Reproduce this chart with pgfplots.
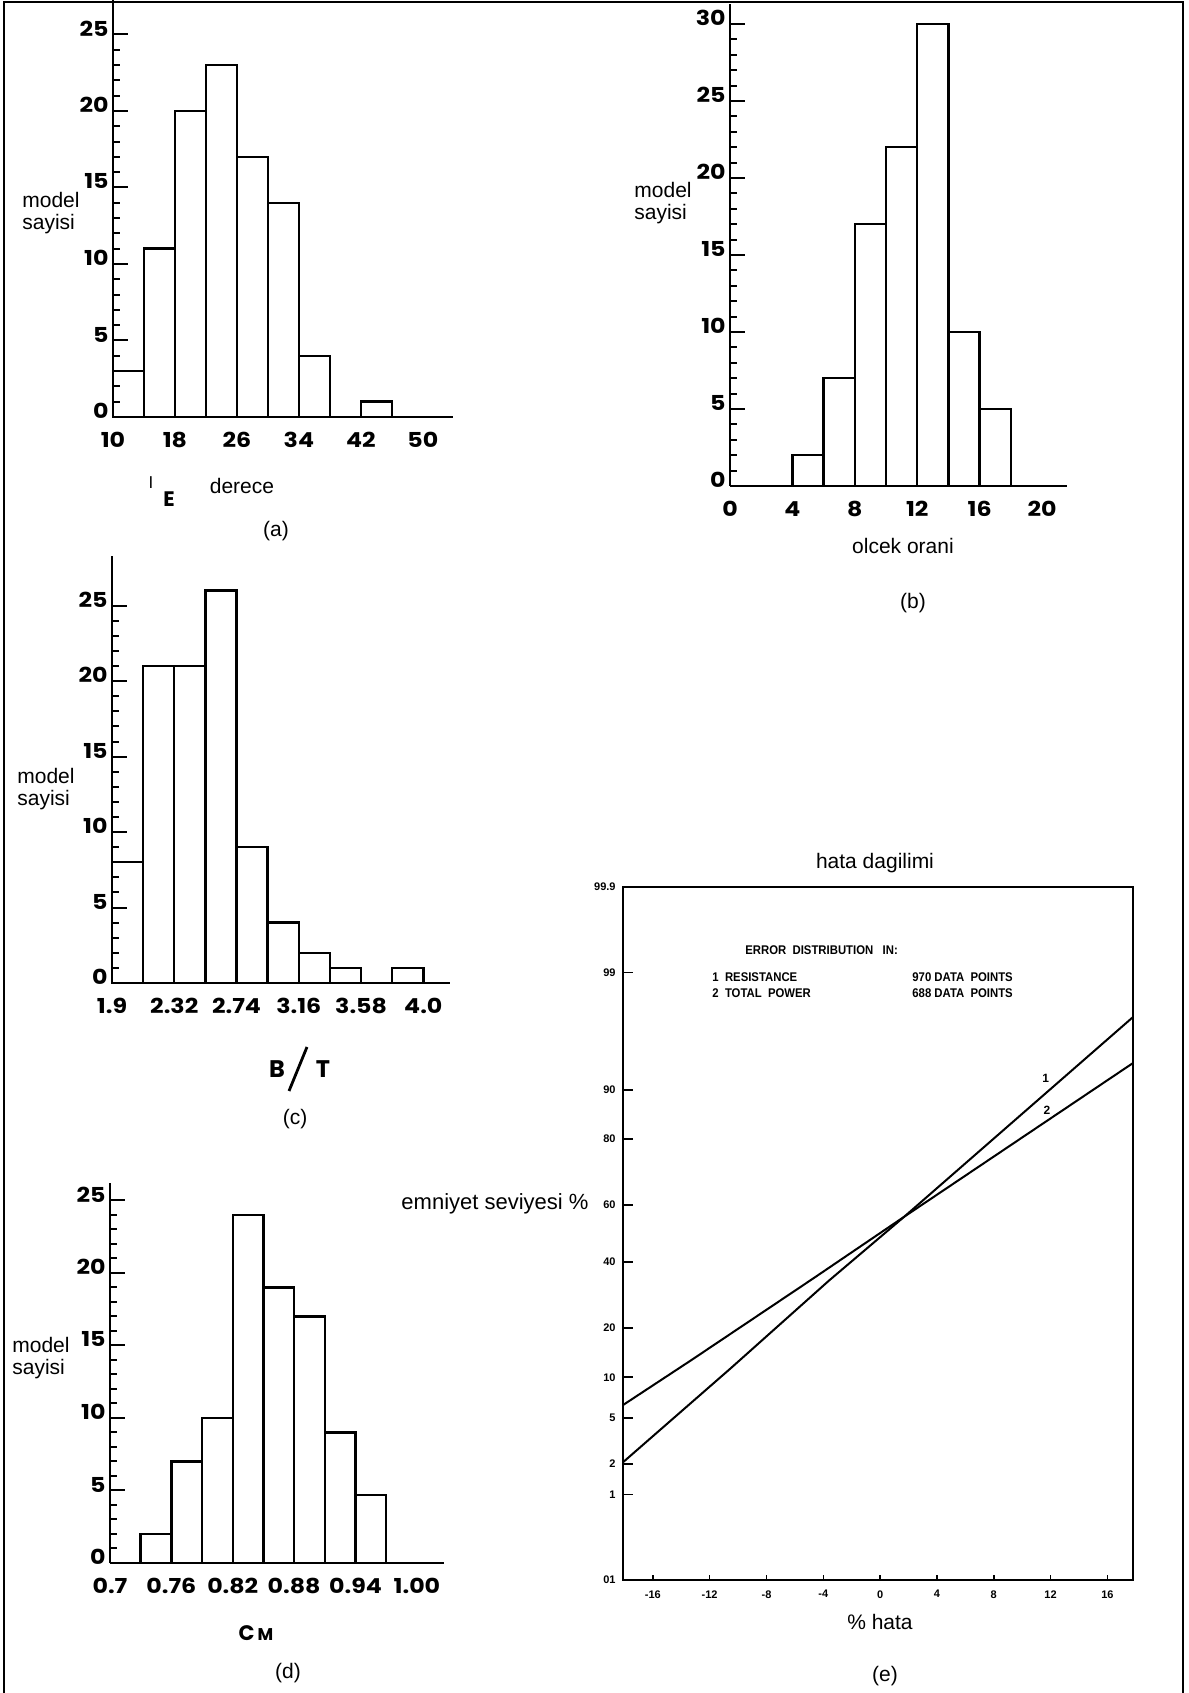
\documentclass[border=0pt]{standalone}
\usepackage{fontspec}
\usepackage{graphicx}
\usepackage{pgfplots}
\pgfplotsset{compat=1.18}
\setmainfont{Liberation Sans}
\newfontfamily\pop{Poppins}
\newcommand\tl[1]{\scalebox{1.15}[1]{\pop\bfseries\fontsize{10.3}{10.3}\selectfont #1}}
\newcommand\lbl{\fontsize{10.5}{11}\selectfont}
\newcommand\etl{\fontsize{5.5}{6}\selectfont\bfseries}
\newcommand\lgd[1]{\scalebox{0.9}[1]{\fontsize{6.3}{7}\selectfont\bfseries #1}}
\pgfplotsset{
  hist/.style={
    scale only axis, anchor=south west, clip=false,
    axis x line=bottom, axis y line=left,
    axis line style={-, line width=1.2pt},
    ymin=0,
    minor y tick num=4,
    tick align=inside,
    major tick length=7.5pt, minor tick length=3.5pt,
    every tick/.style={black, line width=1pt},
    xtick style={draw=none},
    yticklabel style={anchor=east, inner sep=0pt, xshift=-2pt, yshift=3pt},
    xticklabel style={anchor=north, inner sep=0pt, yshift=-7.5pt},
  },
  bar/.style={ybar interval, draw=black, fill=none, line width=1.2pt},
}
\begin{document}
\begin{tikzpicture}
\path[use as bounding box] (0,0) rectangle (594.5pt,846.5pt);
\fill[white] (0,0) rectangle (594.5pt,846.5pt);
\draw[line width=1.1pt] (2pt,0) -- (2pt,845.5pt) -- (591.5pt,845.5pt) -- (591.5pt,0);

% ---------- (a)
\begin{axis}[hist, at={(56.5pt,638pt)}, width=170pt, height=208.5pt,
  xmin=10, xmax=53.9, ymax=27.25,
  ytick={0,5,10,15,20,25}, yticklabels={\tl{0},\tl{5},\tl{10},\tl{15},\tl{20},\tl{25}},
  xtick={10,18,26,34,42,50}, xticklabels={\tl{10},\tl{18},\tl{26},\tl{34},\tl{42},\tl{50}}]
\addplot[bar] coordinates {(10,3)(14,11)(18,20)(22,23)(26,17)(30,14)(34,4)(38,0)(42,1)(46,1)};
\end{axis}
\node[anchor=west, align=left, font=\lbl, inner sep=0pt] at (11pt,740pt) {model\\sayisi};
\node[font=\pop\fontsize{8.5}{8.5}\selectfont, inner sep=0pt] at (75.5pt,605pt) {I};
\node[font=\pop\bfseries\fontsize{10.5}{10.5}\selectfont, inner sep=0pt] at (84.5pt,597pt) {E};
\node[font=\lbl, inner sep=0pt] at (121pt,603.5pt) {derece};
\node[font=\lbl, inner sep=0pt] at (138pt,581pt) {(a)};

% ---------- (b)
\begin{axis}[hist, at={(365pt,603.5pt)}, width=168.5pt, height=241pt,
  xmin=0, xmax=21.6, ymax=31.3,
  ytick={0,5,10,15,20,25,30}, yticklabels={\tl{0},\tl{5},\tl{10},\tl{15},\tl{20},\tl{25},\tl{30}},
  xtick={0,4,8,12,16,20}, xticklabels={\tl{0},\tl{4},\tl{8},\tl{12},\tl{16},\tl{20}}]
\addplot[bar] coordinates {(4,2)(6,7)(8,17)(10,22)(12,30)(14,10)(16,5)(18,5)};
\end{axis}
\node[anchor=west, align=left, font=\lbl, inner sep=0pt] at (317pt,745pt) {model\\sayisi};
\node[font=\lbl, inner sep=0pt] at (451.5pt,573.5pt) {olcek orani};
\node[font=\lbl, inner sep=0pt] at (456.5pt,545pt) {(b)};

% ---------- (c)
\begin{axis}[hist, at={(56pt,355pt)}, width=169pt, height=213.5pt,
  xmin=1.9, xmax=4.18, ymax=28.3,
  ytick={0,5,10,15,20,25}, yticklabels={\tl{0},\tl{5},\tl{10},\tl{15},\tl{20},\tl{25}},
  xtick={1.9,2.32,2.74,3.16,3.58,4.0}, xticklabels={\tl{1.9},\tl{2.32},\tl{2.74},\tl{3.16},\tl{3.58},\tl{4.0}}]
\addplot[bar] coordinates {(1.9,8)(2.11,21)(2.32,21)(2.53,26)(2.74,9)(2.95,4)(3.16,2)(3.37,1)(3.58,0)(3.79,1)(4.0,1)};
\end{axis}
\node[anchor=west, align=left, font=\lbl, inner sep=0pt] at (8.5pt,452pt) {model\\sayisi};
\node[font=\pop\bfseries\fontsize{12}{12}\selectfont, inner sep=0pt] at (138.5pt,312pt) {B};
\draw[line width=1.4pt] (144.5pt,301pt) -- (153.5pt,323pt);
\node[font=\pop\bfseries\fontsize{12}{12}\selectfont, inner sep=0pt] at (161.5pt,312pt) {T};
\node[font=\lbl, inner sep=0pt] at (147.5pt,287pt) {(c)};

% ---------- (d)
\begin{axis}[hist, at={(55pt,65pt)}, width=166.75pt, height=190pt,
  xmin=0.7, xmax=1.026, ymax=26.2,
  ytick={0,5,10,15,20,25}, yticklabels={\tl{0},\tl{5},\tl{10},\tl{15},\tl{20},\tl{25}},
  xtick={0.7,0.76,0.82,0.88,0.94,1.00}, xticklabels={\tl{0.7},\tl{0.76},\tl{0.82},\tl{0.88},\tl{0.94},\tl{1.00}}]
\addplot[bar] coordinates {(0.73,2)(0.76,7)(0.79,10)(0.82,24)(0.85,19)(0.88,17)(0.91,9)(0.94,4.7)(0.97,4.7)};
\end{axis}
\node[anchor=west, align=left, font=\lbl, inner sep=0pt] at (6pt,167.5pt) {model\\sayisi};
\node[anchor=base, inner sep=0pt] at (128pt,26.5pt) {{\pop\bfseries\fontsize{10.5}{10.5}\selectfont C}\hspace{1.5pt}{\pop\bfseries\fontsize{8.5}{8.5}\selectfont M}};
\node[font=\lbl, inner sep=0pt] at (144pt,10pt) {(d)};

% ---------- (e)
\begin{axis}[scale only axis, anchor=south west, at={(311.5pt,56.5pt)}, width=255pt, height=346.5pt,
  xmin=-18.1, xmax=17.8, ymin=-3.09, ymax=3.09,
  axis line style={line width=1pt},
  tick pos=left, tick align=inside,
  every tick/.style={black, line width=0.8pt},
  xtick={-16,-12,-8,-4,0,4,8,12,16},
  xticklabels={-16,-12,-8,-4,0,4,8,12,16},
  xtick style={/pgfplots/major tick length=2.5pt},
  ytick style={/pgfplots/major tick length=5pt},
  ytick={-3.090,-2.326,-2.054,-1.645,-1.282,-0.842,-0.253,0.253,0.842,1.282,2.326,3.090},
  yticklabels={01,1,2,5,10,20,40,60,80,90,99,99.9},
  ticklabel style={font=\etl},
  yticklabel style={anchor=east, inner sep=0pt, xshift=-3.5pt},
  xticklabel style={anchor=north, inner sep=0pt, yshift=-5pt},
  clip=false]
\addplot[black, line width=1pt] coordinates {(-18.1,-2.04)(-10.5,-1.20)(-3.6,-0.42)(1.7,0.15)(17.8,1.93)};
\addplot[black, line width=1pt] coordinates {(-18.1,-1.53)(-13.3,-1.13)(-4.7,-0.40)(1.7,0.15)(17.8,1.52)};
\node[font=\fontsize{6}{6}\selectfont\bfseries] at (axis cs:11.65,1.386) {1};
\node[font=\fontsize{6}{6}\selectfont\bfseries] at (axis cs:11.75,1.10) {2};
\end{axis}
\node[font=\lbl, inner sep=0pt] at (437.5pt,415pt) {hata dagilimi};
\node[font=\fontsize{11}{12}\selectfont, inner sep=0pt] at (247.5pt,244.5pt) {emniyet seviyesi \%};
\node[font=\lbl, inner sep=0pt] at (440pt,35.5pt) {\% hata};
\node[font=\lbl, inner sep=0pt] at (442.5pt,8.5pt) {(e)};
\node[anchor=west, inner sep=0pt] at (372.5pt,371.5pt) {\lgd{ERROR\ \ DISTRIBUTION\ \ \ IN:}};
\node[anchor=west, inner sep=0pt] at (356pt,358pt) {\lgd{1\ \ RESISTANCE}};
\node[anchor=west, inner sep=0pt] at (456pt,358pt) {\lgd{970\ DATA\ \ POINTS}};
\node[anchor=west, inner sep=0pt] at (356pt,350pt) {\lgd{2\ \ TOTAL\ \ POWER}};
\node[anchor=west, inner sep=0pt] at (456pt,350pt) {\lgd{688\ DATA\ \ POINTS}};
\end{tikzpicture}
\end{document}
